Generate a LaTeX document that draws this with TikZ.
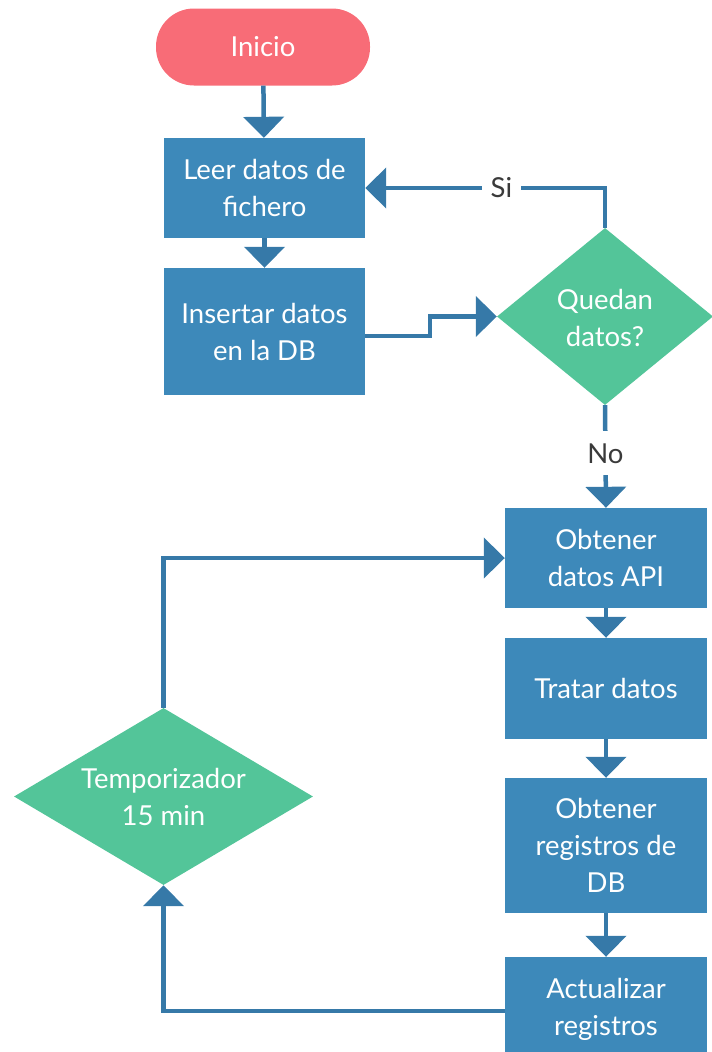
\documentclass[tikz,border=0pt]{standalone}
\usepackage{fontspec}
\setmainfont{Lato}
\usetikzlibrary{shapes.geometric,arrows.meta}

\definecolor{startred}{HTML}{F86C77}
\definecolor{stepblue}{HTML}{3D89BA}
\definecolor{decgreen}{HTML}{53C599}
\definecolor{linkblue}{HTML}{3679A8}
\definecolor{labelgray}{HTML}{3A3A3A}

\tikzset{
  x=1pt, y=-1pt,
  every node/.style={font=\fontsize{27.5}{37}\selectfont},
  startbox/.style={rectangle, rounded corners=38pt, fill=startred, text=white,
    minimum width=214pt, minimum height=77pt, inner sep=0pt},
  stepbox/.style={rectangle, fill=stepblue, text=white, align=center,
    minimum width=201pt, inner sep=0pt},
  decbox/.style={diamond, fill=decgreen, inner sep=0pt, text=white},
  dectext/.style={text=white, align=center, inner sep=0pt},
  link/.style={draw=linkblue, line width=4.5pt,
    -{Triangle[width=40pt,length=21pt]}},
  linklabel/.style={fill=white, text=labelgray, inner ysep=2pt, inner xsep=9pt}
}

\begin{document}
\begin{tikzpicture}
\useasboundingbox (0,0) rectangle (712,1052);
\clip (0,0) rectangle (712,1052);

% upper block: load the file into the database
\node[startbox] (inicio) at (263,47) {Inicio};
\node[stepbox, minimum height=100pt] (leer) at (264.5,188) {Leer datos de\\fichero};
\node[stepbox, minimum height=127pt] (insertar) at (264.5,331.5) {Insertar datos\\en la DB};
\node[decbox, minimum width=216pt, minimum height=177pt] (quedan) at (605,316.5) {};
\node[dectext] at (605,318) {Quedan\\datos?};

% lower block: periodic API update loop
\node[stepbox, minimum width=202pt, minimum height=100pt] (api) at (606,558) {Obtener\\datos API};
\node[stepbox, minimum width=202pt, minimum height=101pt] (tratar) at (606,688.5) {Tratar datos};
\node[stepbox, minimum width=202pt, minimum height=135pt] (registros) at (606,845.5) {Obtener\\registros de\\DB};
\node[stepbox, minimum width=202pt, minimum height=104pt] (actualizar) at (606,1009) {Actualizar\\registros};
\node[decbox, minimum width=299pt, minimum height=177pt] (timer) at (163.5,796.5) {};
\node[dectext] at (163.5,797) {Temporizador\\15 min};

% connectors
\draw[link] (inicio) -- (leer);
\draw[link] (leer) -- (insertar);
\draw[link] ([yshift=-4.5pt]insertar.east) -- ++(65,0) |- (quedan.west);
\draw[link] (quedan.north) |- node[pos=0.716, linklabel] {Si} (leer.east);
\draw[link] (quedan.south) -- node[pos=0.47, linklabel, inner ysep=12pt, inner xsep=2pt] {No} (api.north);
\draw[link] (api) -- (tratar);
\draw[link] (tratar) -- (registros);
\draw[link] (registros) -- (actualizar);
\draw[link] ([yshift=-2pt]actualizar.west) -| (timer.south);
\draw[link] (timer.north) |- (api.west);
\end{tikzpicture}
\end{document}
